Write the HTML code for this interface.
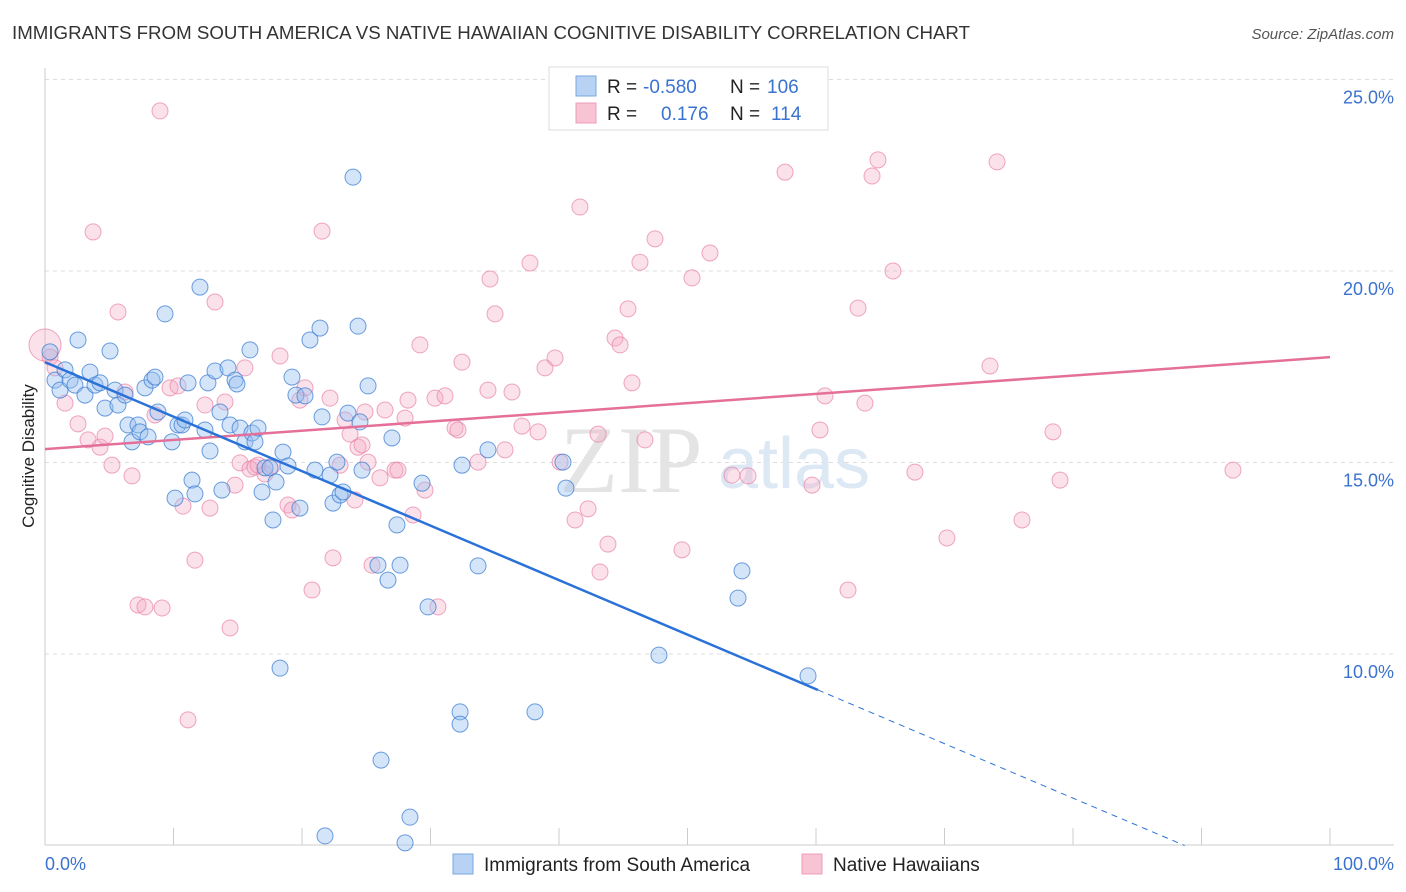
<!DOCTYPE html>
<html><head><meta charset="utf-8"><style>
body{margin:0;background:#fff;font-family:"Liberation Sans",sans-serif;}
svg{display:block}
</style></head><body>
<svg id="chart" width="1406" height="892">
<text x="12" y="39" font-size="18" fill="#333" textLength="958" lengthAdjust="spacingAndGlyphs">IMMIGRANTS FROM SOUTH AMERICA VS NATIVE HAWAIIAN COGNITIVE DISABILITY CORRELATION CHART</text>
<text x="1394" y="39" font-size="15" fill="#555" font-style="italic" text-anchor="end">Source: ZipAtlas.com</text>
<text x="34" y="456" font-size="17" fill="#222" text-anchor="middle" transform="rotate(-90 34 456)">Cognitive Disability</text>
<g id="grid"></g>
<text x="560" y="492" font-size="95" fill="#e4e4e4" font-family="Liberation Serif,serif">ZIP</text>
<text x="718" y="488" font-size="72" fill="#dde8f5">atlas</text>
<g id="marks"></g>
<g>
<rect x="549" y="67" width="279" height="63" fill="#fff" stroke="#ddd"/>
<rect x="576" y="76" width="20" height="20" fill="#b8d2f4" stroke="#7aa8e0"/>
<rect x="576" y="103" width="20" height="20" fill="#f8c4d4" stroke="#ec9cb8"/>
<text x="607" y="93" font-size="19" fill="#222">R = <tspan x="643" fill="#3a72d0">-0.580</tspan><tspan x="730">N = </tspan><tspan x="767" fill="#3a72d0">106</tspan></text>
<text x="607" y="120" font-size="19" fill="#222">R = <tspan x="661" fill="#3a72d0">0.176</tspan><tspan x="730">N = </tspan><tspan x="771" fill="#3a72d0">114</tspan></text>
</g>
<g>
<rect x="453" y="854" width="20" height="20" fill="#b8d2f4" stroke="#7aa8e0"/>
<text x="484" y="871" font-size="19" fill="#222">Immigrants from South America</text>
<rect x="802" y="854" width="20" height="20" fill="#f8c4d4" stroke="#ec9cb8"/>
<text x="833" y="871" font-size="19" fill="#222">Native Hawaiians</text>
</g>
<text x="45" y="870" font-size="18" fill="#3a72d0">0.0%</text>
<text x="1394" y="870" font-size="18" fill="#3a72d0" text-anchor="end">100.0%</text>
</svg>
<script>
const yTicks=[25,20,15,10];
const xTickVals=[0,10,20,30,40,50,60,70,80,90,100];
const bluePx=[[50,352],[55,380],[60,390],[65,370],[70,380],[75,385],[78,340],[85,395],[90,372],[95,385],[100,383],[105,408],[110,351],[115,390],[118,405],[125,395],[128,425],[132,442],[138,425],[140,432],[145,388],[148,437],[152,380],[155,377],[158,412],[165,314],[172,442],[175,498],[178,425],[182,425],[185,420],[188,383],[192,480],[195,494],[200,287],[205,430],[208,383],[210,451],[215,371],[220,412],[222,490],[228,368],[230,425],[235,380],[237,384],[240,428],[245,442],[250,350],[252,433],[255,442],[258,428],[262,492],[265,468],[270,468],[273,520],[276,482],[280,668],[283,452],[288,466],[292,377],[296,395],[300,508],[305,396],[310,340],[315,470],[320,328],[322,417],[325,836],[330,475],[333,503],[337,462],[340,495],[343,492],[348,413],[353,177],[358,326],[360,422],[362,470],[368,386],[378,565],[381,760],[388,580],[392,438],[397,525],[400,565],[405,843],[410,817],[422,483],[428,607],[460,712],[460,724],[462,465],[478,566],[488,450],[535,712],[563,462],[566,488],[659,655],[738,598],[742,571],[808,676]];
const pinkPx=[[50,357],[55,368],[65,403],[78,424],[88,440],[93,232],[100,447],[105,436],[112,465],[118,312],[125,392],[132,476],[138,605],[145,607],[155,415],[160,111],[162,608],[170,388],[178,386],[183,506],[188,720],[195,560],[205,405],[210,508],[215,302],[225,402],[230,628],[235,485],[240,463],[245,368],[250,469],[255,467],[258,465],[265,474],[272,466],[280,356],[288,505],[292,510],[300,400],[305,388],[312,590],[322,231],[330,398],[333,558],[340,465],[345,420],[350,434],[355,500],[358,447],[362,445],[365,412],[368,462],[372,565],[380,478],[385,410],[395,470],[398,470],[405,418],[408,400],[413,515],[420,345],[425,490],[435,398],[438,607],[445,396],[455,428],[458,430],[462,362],[478,462],[488,390],[490,279],[495,314],[505,450],[512,392],[522,426],[530,263],[538,432],[545,368],[555,358],[560,462],[575,520],[580,207],[588,509],[598,434],[600,572],[608,544],[615,338],[620,345],[628,309],[632,383],[640,262],[645,440],[655,239],[682,550],[692,278],[710,253],[732,475],[748,476],[785,172],[812,485],[820,430],[825,396],[848,590],[858,308],[865,403],[872,176],[878,160],[893,271],[915,472],[947,538],[990,366],[997,162],[1022,520],[1053,432],[1060,480],[1233,470]];
const blueX=bluePx.map(p=>+((p[0]-45)/12.85).toFixed(2));
const blueY=bluePx.map(p=>+(25-(p[1]-79.5)/38.3).toFixed(2));
const pinkX=pinkPx.map(p=>+((p[0]-45)/12.85).toFixed(2));
const pinkY=pinkPx.map(p=>+(25-(p[1]-79.5)/38.3).toFixed(2));
const blueTrend=[17.62,-0.1423];
const pinkTrend=[15.35,0.024];
const X=v=>45+v*12.85, Y=v=>79.5+(25-v)*38.3;
const NS="http://www.w3.org/2000/svg";
function mk(tag,attrs,parent){const e=document.createElementNS(NS,tag);for(const k in attrs)e.setAttribute(k,attrs[k]);parent.appendChild(e);return e;}
const grid=document.getElementById('grid'), marks=document.getElementById('marks');
yTicks.forEach(t=>{
  const l=mk('line',{x1:45,x2:1394,y1:Y(t),y2:Y(t),stroke:'#ddd','stroke-dasharray':'4,4'},grid);
  
  
  const tx=mk('text',{x:1394,y:Y(t)+24,'font-size':18,fill:'#3a72d0','text-anchor':'end'},grid);
  tx.textContent=t.toFixed(1)+'%';
  
  
});
const ax=mk('line',{x1:45,x2:45,y1:68,y2:845,stroke:'#ccc'},grid);


const bx=mk('line',{x1:45,x2:1394,y1:845,y2:845,stroke:'#ccc'},grid);


xTickVals.forEach(t=>{
  const l=mk('line',{x1:X(t),x2:X(t),y1:828,y2:845,stroke:'#ccc'},grid);
  
  
});
pinkX.forEach((x,i)=>{
  const c=mk('circle',{cx:X(x),cy:Y(pinkY[i]),r:8,fill:'rgba(244,170,196,0.35)',stroke:'rgba(232,130,168,0.7)','stroke-width':1},marks);
  
  
});
const big=mk('circle',{cx:45,cy:345,r:16,fill:'rgba(244,170,196,0.35)',stroke:'rgba(232,130,168,0.7)'},marks);


blueX.forEach((x,i)=>{
  const c=mk('circle',{cx:X(x),cy:Y(blueY[i]),r:8,fill:'rgba(150,190,240,0.4)',stroke:'rgba(60,125,210,0.75)','stroke-width':1},marks);
  
  
});
const pl=mk('line',{x1:X(0),y1:Y(pinkTrend[0]),x2:X(100),y2:Y(pinkTrend[0]+100*pinkTrend[1]),stroke:'#e4709a','stroke-width':2.5},marks);


const xe=60.15;
const bl=mk('line',{x1:X(0),y1:Y(blueTrend[0]),x2:X(xe),y2:Y(blueTrend[0]+xe*blueTrend[1]),stroke:'#2a72d8','stroke-width':2.5},marks);


const xEnd=(5-blueTrend[0])/blueTrend[1];
const bd=mk('line',{x1:X(xe),y1:Y(blueTrend[0]+xe*blueTrend[1]),x2:X(xEnd),y2:Y(5),stroke:'#2a72d8','stroke-width':1,'stroke-dasharray':'6,5'},marks);


</script>
</body></html>
